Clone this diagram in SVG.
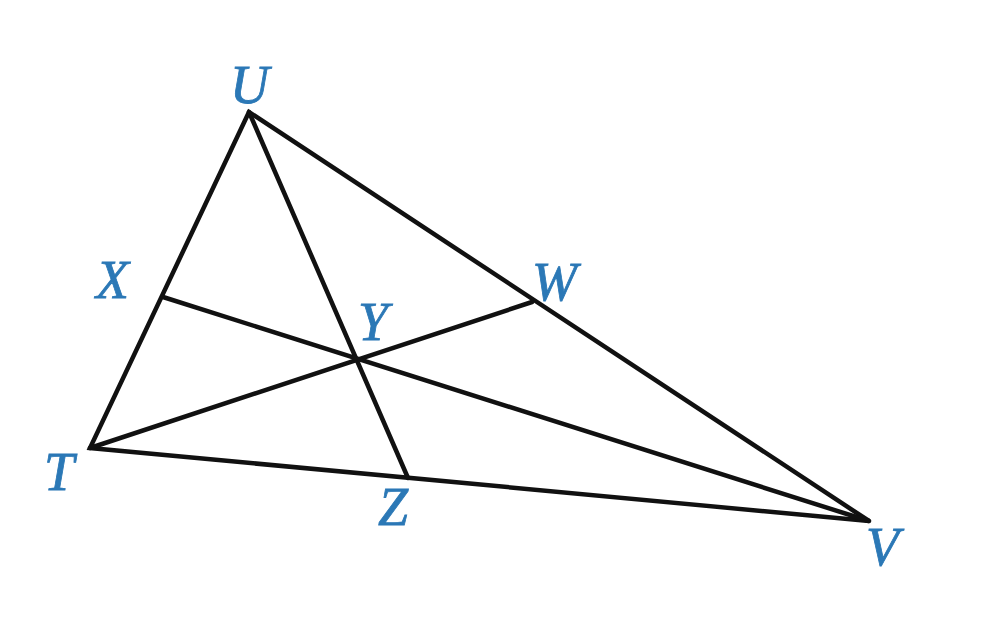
<svg xmlns="http://www.w3.org/2000/svg" width="1008" height="630" viewBox="0 0 1008 630">
<style>
.l{stroke:#111;stroke-width:4.5;stroke-linecap:round;fill:none}
.t{font-family:"Liberation Serif",serif;font-style:italic;font-size:54px;fill:#2b78b6;stroke:#2b78b6;stroke-width:0.8}
</style>
<rect width="1008" height="630" fill="#fff"/>
<g id="connectors">
<polygon class="l" points="249,112 90,448 869,521" stroke-linejoin="miter"/>
<line class="l" x1="249" y1="112" x2="408" y2="478"/>
<line class="l" x1="90" y1="448" x2="532" y2="302"/>
<line class="l" x1="163" y1="297" x2="869" y2="521"/>
</g>
<g id="U"><text class="t" x="230" y="103">U</text></g>
<g id="X"><text class="t" x="96" y="298">X</text></g>
<g id="T"><text class="t" x="44" y="490">T</text></g>
<g id="Y"><text class="t" x="358" y="340">Y</text></g>
<g id="W"><text class="t" x="532" y="300">W</text></g>
<g id="Z"><text class="t" x="378" y="525">Z</text></g>
<g id="V"><text class="t" x="866" y="565">V</text></g>
</svg>
